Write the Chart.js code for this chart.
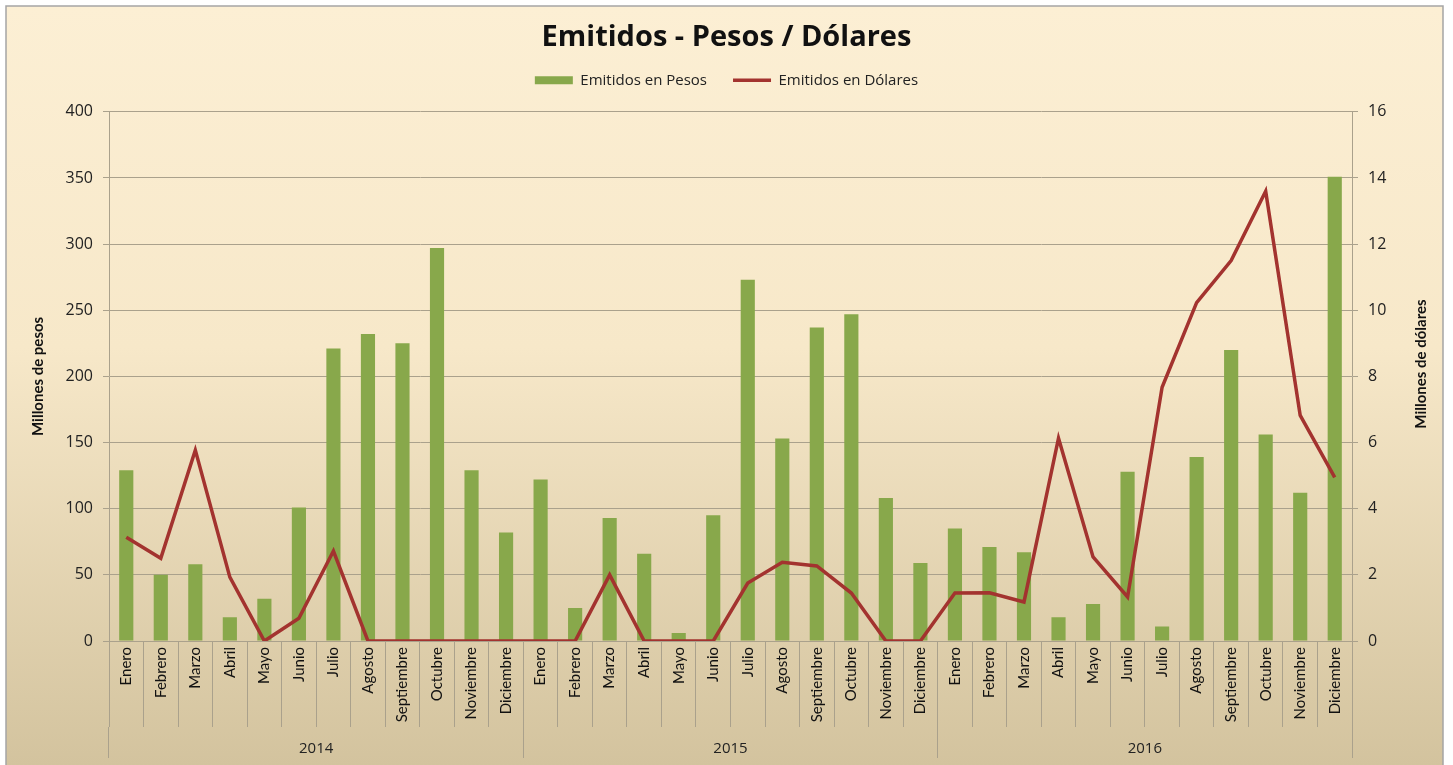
<!DOCTYPE html>
<html>
<head>
<meta charset="utf-8" />
<title>Emitidos - Pesos / Dólares</title>
<style>
  html, body { margin: 0; padding: 0; background: #fff; }
</style>
</head>
<body>
<canvas id="emitidos" width="1453" height="765"></canvas>
<script src="https://cdn.jsdelivr.net/npm/chart.js@4/dist/chart.umd.min.js"></script>
<script>
// datos
const meses = ['Enero', 'Febrero', 'Marzo', 'Abril', 'Mayo', 'Junio', 'Julio', 'Agosto',
               'Septiembre', 'Octubre', 'Noviembre', 'Diciembre'];
const anios = ['2014', '2015', '2016'];

// millones de pesos (eje izquierdo)
const pesos = [129, 50, 58, 18, 32, 101, 221, 232, 225, 297, 129, 82,
               122, 25, 93, 66, 6, 95, 273, 153, 237, 247, 108, 59,
               85, 71, 67, 18, 28, 128, 11, 139, 220, 156, 112, 351];

// millones de dolares (eje derecho)
const dolares = [3.14, 2.5, 5.77, 1.93, 0, 0.69, 2.72, 0, 0, 0, 0, 0,
                 0, 0, 2.0, 0, 0, 0, 1.75, 2.38, 2.27, 1.45, 0, 0,
                 1.45, 1.46, 1.18, 6.13, 2.54, 1.33, 7.67, 10.23, 11.5, 13.6, 6.82, 4.95];

const categorias = anios.flatMap(() => meses);

const gris = '#aaa18c';
const fuente = '"Open Sans", Lato, sans-serif';
const fuenteMes = 'Lato, "Open Sans", sans-serif';

// fondo degradado y marco
const fondo = {
  id: 'fondo',
  beforeDraw(chart) {
    const ctx = chart.ctx;
    ctx.save();
    const g = ctx.createLinearGradient(0, 6, 0, chart.height);
    g.addColorStop(0, '#fcefd4');
    g.addColorStop(0.45, '#f7e8c9');
    g.addColorStop(1, '#d3c39e');
    ctx.fillStyle = g;
    ctx.fillRect(6, 6, 1437, chart.height);
    ctx.strokeStyle = '#a5a5a5';
    ctx.lineWidth = 1.5;
    ctx.strokeRect(6, 6, 1437, chart.height + 10);
    ctx.restore();
  }
};

// titulo del eje derecho, leido de abajo hacia arriba como el original
const tituloDerecho = {
  id: 'tituloDerecho',
  afterDraw(chart) {
    const ctx = chart.ctx;
    ctx.save();
    ctx.translate(1421, 364);
    ctx.rotate(-Math.PI / 2);
    ctx.font = 'bold 15px ' + fuenteMes;
    ctx.fillStyle = '#111';
    ctx.textAlign = 'center';
    ctx.textBaseline = 'middle';
    ctx.fillText('Millones de dólares', 0, 0);
    ctx.restore();
  }
};

new Chart(document.getElementById('emitidos'), {
  data: {
    labels: categorias,
    datasets: [
      {
        type: 'line',
        label: 'Emitidos en Dólares',
        data: dolares,
        yAxisID: 'y2',
        borderColor: '#a3332f',
        backgroundColor: '#a3332f',
        borderWidth: 3.5,
        pointRadius: 0,
        pointStyle: 'line',
        tension: 0,
        order: 1
      },
      {
        type: 'bar',
        label: 'Emitidos en Pesos',
        data: pesos,
        yAxisID: 'y',
        backgroundColor: '#88a84b',
        borderWidth: 0,
        pointStyle: 'rect',
        categoryPercentage: 1,
        barPercentage: 0.41,
        order: 2
      }
    ]
  },
  options: {
    responsive: false,
    animation: false,
    layout: { padding: 0 },
    plugins: {
      title: {
        display: true,
        text: 'Emitidos - Pesos / Dólares',
        color: '#111',
        font: { family: fuente, size: 29, weight: 'bold' },
        padding: { top: 20, bottom: -8 }
      },
      // hueco vacio entre la leyenda y el area del grafico
      subtitle: {
        display: true,
        text: '',
        weight: 500,
        font: { size: 10 },
        padding: { top: 0, bottom: 2 }
      },
      legend: {
        reverse: true,
        labels: {
          color: '#222',
          font: { family: fuente, size: 15 },
          usePointStyle: true,
          pointStyleWidth: 38,
          boxHeight: 8,
          padding: 26
        }
      },
      tooltip: { enabled: false }
    },
    scales: {
      x: {
        type: 'category',
        position: 'bottom',
        offset: true,
        grid: { offset: true, drawOnChartArea: false, tickLength: 86, color: gris },
        border: { color: gris },
        ticks: {
          color: '#111',
          font: { family: fuenteMes, size: 15 },
          autoSkip: false,
          minRotation: 90,
          maxRotation: 90,
          padding: -80
        },
        afterFit(scale) { scale.height = 86; }
      },
      anio: {
        type: 'category',
        position: 'bottom',
        labels: anios,
        offset: true,
        grid: { offset: true, drawOnChartArea: false, tickLength: 31, color: gris },
        border: { display: false },
        ticks: {
          color: '#222',
          font: { family: fuente, size: 15 },
          padding: -18
        },
        afterFit(scale) { scale.height = 38; }
      },
      y: {
        position: 'left',
        min: 0,
        max: 400,
        ticks: {
          stepSize: 50,
          color: '#222',
          font: { family: fuente, size: 16 },
          padding: 10
        },
        grid: { color: gris, tickLength: 6 },
        border: { color: gris },
        title: {
          display: true,
          text: 'Millones de pesos',
          color: '#111',
          font: { family: fuenteMes, size: 15, weight: 'bold' },
          padding: { top: 29, bottom: 0 }
        },
        afterFit(scale) { scale.width = 109; }
      },
      y2: {
        position: 'right',
        min: 0,
        max: 16,
        ticks: {
          stepSize: 2,
          color: '#222',
          font: { family: fuente, size: 16 },
          padding: 10
        },
        grid: { drawOnChartArea: false, color: gris, tickLength: 6 },
        border: { color: gris },
        afterFit(scale) { scale.width = 101; }
      }
    }
  },
  plugins: [fondo, tituloDerecho]
});
</script>
</body>
</html>
